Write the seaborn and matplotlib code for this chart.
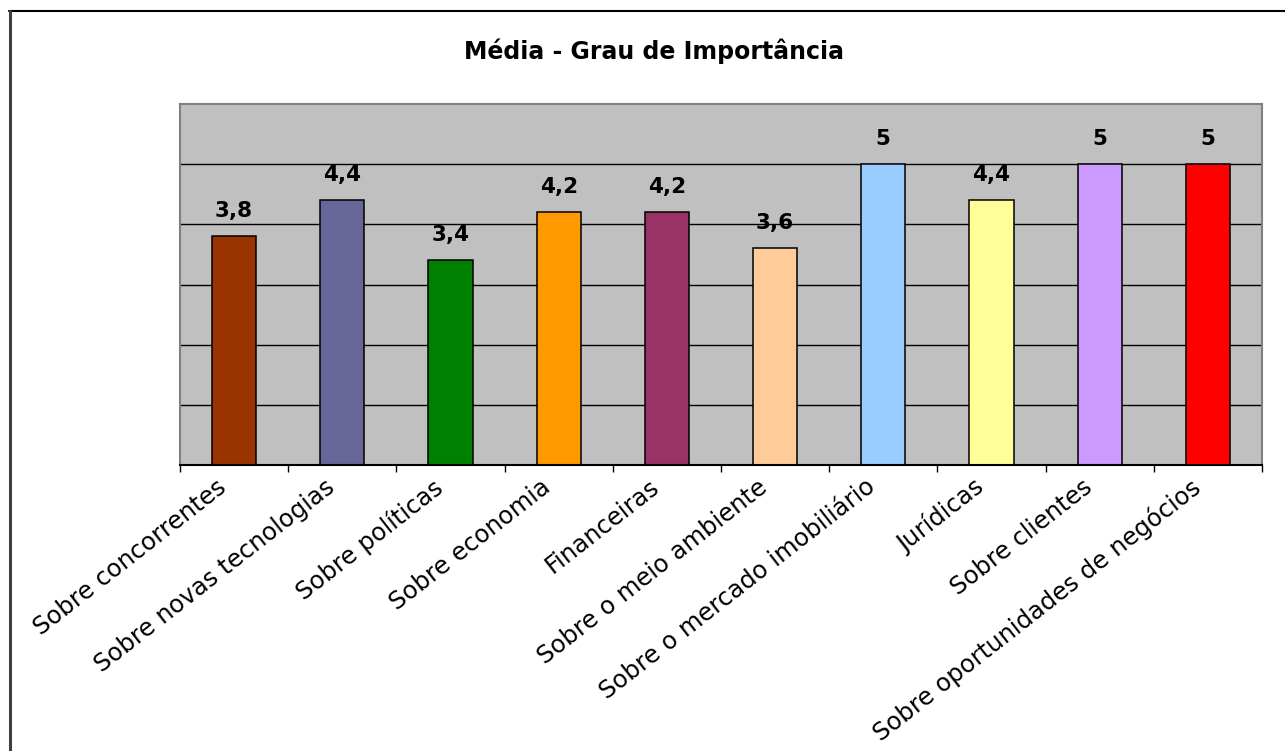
import matplotlib
matplotlib.use("Agg")
import matplotlib.pyplot as plt
import matplotlib.transforms as mtransforms
from matplotlib.lines import Line2D
import pandas as pd
import seaborn as sns

categorias = [
    "Sobre concorrentes",
    "Sobre novas tecnologias",
    "Sobre políticas",
    "Sobre economia",
    "Financeiras",
    "Sobre o meio ambiente",
    "Sobre o mercado imobiliário",
    "Jurídicas",
    "Sobre clientes",
    "Sobre oportunidades de negócios",
]
medias = [3.8, 4.4, 3.4, 4.2, 4.2, 3.6, 5, 4.4, 5, 5]
cores = [
    "#993300", "#666699", "#008000", "#FF9900", "#993366",
    "#FFCC99", "#99CCFF", "#FFFF99", "#CC99FF", "#FF0000",
]
titulo = "Média - Grau de Importância"

df = pd.DataFrame({"categoria": categorias, "media": medias})

sns.set_theme(style="white")
plt.rcParams["font.family"] = ["DejaVu Sans"]
plt.rcParams["text.color"] = "black"
plt.rcParams["xtick.color"] = "black"
plt.rcParams["xtick.labelcolor"] = "black"

fig = plt.figure(figsize=(12.85, 7.51), dpi=100)
ax = fig.add_axes([180 / 1285, 1 - 465 / 751, 1082 / 1285, 361 / 751])
ax.set_facecolor("#C0C0C0")

sns.barplot(
    data=df, x="categoria", y="media", hue="categoria", palette=cores,
    legend=False, width=0.41, edgecolor="black", linewidth=1.1,
    saturation=1, ax=ax,
)

ax.set_xlim(-0.5, len(categorias) - 0.5)
ax.set_ylim(0, 6)
ax.set_axisbelow(True)
ax.set_yticks([1, 2, 3, 4, 5])
ax.set_yticklabels([])
ax.tick_params(axis="y", length=0)
ax.yaxis.grid(True, color="black", linewidth=1.0)
ax.xaxis.grid(False)
ax.set_xlabel("")
ax.set_ylabel("")

for lado in ["top", "left", "right"]:
    ax.spines[lado].set_color("#808080")
    ax.spines[lado].set_linewidth(1.5)
ax.spines["bottom"].set_color("black")
ax.spines["bottom"].set_linewidth(1.5)

# tick marks between categories, labels at the centers
ax.set_xticks(range(len(categorias)))
ax.set_xticks([i - 0.5 for i in range(len(categorias) + 1)], minor=True)
ax.tick_params(axis="x", which="minor", bottom=True, length=5, width=1,
               color="black", direction="out")
ax.tick_params(axis="x", which="major", bottom=True, length=0, pad=7)
ax.set_xticklabels(categorias, fontsize=17.5, rotation=38, ha="right", va="top",
                   rotation_mode="anchor", color="black")
desloc = mtransforms.ScaledTranslation(-18 / 100, 0, fig.dpi_scale_trans)
for rot in ax.get_xticklabels():
    rot.set_transform(rot.get_transform() + desloc)

# value labels above bars
textos = [f"{v:g}".replace(".", ",") for v in medias]
for cont in ax.containers:
    ax.bar_label(cont, labels=[textos[int(round(b.get_x() + b.get_width() / 2))] for b in cont],
                 padding=11, fontsize=15.5, fontweight="bold", color="black")

fig.text(654 / 1285, 1 - 51 / 751, titulo, ha="center", va="center",
         fontsize=17, fontweight="bold", color="black")

# chart border (top and left visible)
fig.add_artist(Line2D([9 / 1285, 1], [1 - 11 / 751, 1 - 11 / 751],
                      transform=fig.transFigure, color="black", linewidth=1.5))
fig.add_artist(Line2D([10 / 1285, 10 / 1285], [0, 1 - 11 / 751],
                      transform=fig.transFigure, color="#404040", linewidth=2.2))

fig.savefig("out.png", dpi=100)
